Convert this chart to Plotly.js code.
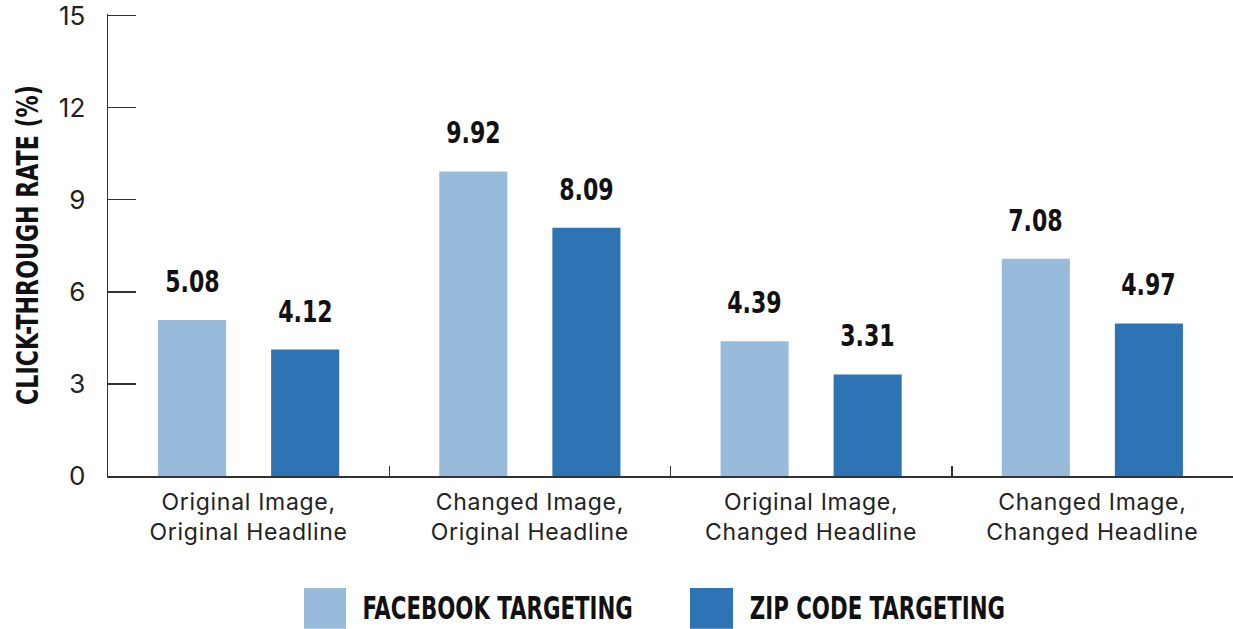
<!DOCTYPE html>
<html>
<head>
<meta charset="utf-8">
<script src="https://cdn.plot.ly/plotly-3.0.1.min.js"></script>
<style>
html,body{margin:0;padding:0;background:#fff;}
#chart{width:1233px;height:629px;}
#chart .xtick text{letter-spacing:0.7px;}
</style>
</head>
<body>
<div id="chart"></div>
<script>
const categories = ["Original Image,<br>Original Headline", "Changed Image,<br>Original Headline", "Original Image,<br>Changed Headline", "Changed Image,<br>Changed Headline"];
const facebookValues = [5.08, 9.92, 4.39, 7.08];
const zipValues = [4.12, 8.09, 3.31, 4.97];
const seriesNames = ["FACEBOOK TARGETING", "ZIP CODE TARGETING"];
const yTicks = [0, 3, 6, 9, 12, 15];
const yTitle = "CLICK-THROUGH RATE (%)";

const lightBlue = "#98bbdc";
const darkBlue = "#2e74b5";
const boldFont = "'DejaVu Sans Condensed', 'DejaVu Sans', sans-serif";
const textFont = "Inter, Lato, 'Open Sans', sans-serif";

const traces = [
  {type: "bar", name: seriesNames[0], x: categories, y: facebookValues, marker: {color: lightBlue}, hoverinfo: "none"},
  {type: "bar", name: seriesNames[1], x: categories, y: zipValues, marker: {color: darkBlue}, hoverinfo: "none"}
];

const annotations = [];
const valueIdx = [], legendIdx = [];
[facebookValues, zipValues].forEach((vals, s) => {
  vals.forEach((v, i) => {
    valueIdx.push(annotations.length);
    annotations.push({
      x: categories[i], y: v, xref: "x", yref: "y",
      text: "<b>" + v.toFixed(2) + "</b>", showarrow: false,
      yanchor: "bottom", xshift: s === 0 ? -56.5 : 56.5, yshift: 19,
      font: {family: boldFont, size: 31, color: "#111"}
    });
  });
});

// legend (drawn manually for large swatches)
const legendItems = [
  {x0: 304, x1: 346, tc: 497, color: lightBlue, text: seriesNames[0]},
  {x0: 690, x1: 733, tc: 877, color: darkBlue, text: seriesNames[1]}
];
const L = 108, W = 1125, T = 13.5, B = 153, FH = 629;
const H = FH - T - B;
const px = v => (v - L) / W;
const py = v => (T + H - v) / H;
const shapes = [];
legendItems.forEach(it => {
  shapes.push({type: "rect", xref: "paper", yref: "paper", x0: px(it.x0), x1: px(it.x1), y0: py(588), y1: py(629), fillcolor: it.color, line: {width: 0}});
  legendIdx.push(annotations.length);
  annotations.push({xref: "paper", yref: "paper", x: px(it.tc), y: py(608.5), xanchor: "center", yanchor: "middle", showarrow: false,
    text: "<b>" + it.text + "</b>", font: {family: boldFont, size: 32, color: "#111"}});
});

const layout = {
  width: 1233, height: FH,
  margin: {l: L, r: 0, t: T, b: B},
  paper_bgcolor: "#fff", plot_bgcolor: "#fff",
  showlegend: false,
  barmode: "group", bargap: 0.196, bargroupgap: 0.398,
  xaxis: {
    type: "category", range: [-0.5, 3.5],
    showline: true, linecolor: "#333", linewidth: 1.5,
    ticks: "inside", tickson: "boundaries", ticklen: 10, tickcolor: "#333", tickwidth: 1.5,
    tickfont: {family: textFont, size: 23, color: "#222"},
    ticklabelstandoff: 5, fixedrange: true
  },
  yaxis: {
    range: [0, 15.05], tickvals: yTicks, ticktext: yTicks.map(String),
    showline: true, linecolor: "#333", linewidth: 1.5,
    ticks: "inside", ticklen: 28, tickcolor: "#333", tickwidth: 1.5,
    showgrid: false, zeroline: false,
    tickfont: {family: textFont, size: 26, color: "#222"},
    ticklabelstandoff: 16, ticklabeloverflow: "allow",
    title: {text: "<b>" + yTitle + "</b>", font: {family: boldFont, size: 30, color: "#111"}, standoff: 11},
    automargin: false, fixedrange: true
  },
  shapes: shapes,
  annotations: annotations
};

function condense(el, s) {
  const len = el.getComputedTextLength();
  el.setAttribute("textLength", (len * s).toFixed(1));
  el.setAttribute("lengthAdjust", "spacingAndGlyphs");
}

Plotly.newPlot("chart", traces, layout, {displayModeBar: false, staticPlot: true}).then(gd => {
  valueIdx.forEach(i => gd.querySelectorAll('g.annotation[data-index="' + i + '"] text.annotation-text').forEach(t => condense(t, 0.79)));
  legendIdx.forEach(i => gd.querySelectorAll('g.annotation[data-index="' + i + '"] text.annotation-text').forEach(t => condense(t, 0.74)));
  gd.querySelectorAll("text.ytitle").forEach(t => condense(t, 0.82));
});
</script>
</body>
</html>
